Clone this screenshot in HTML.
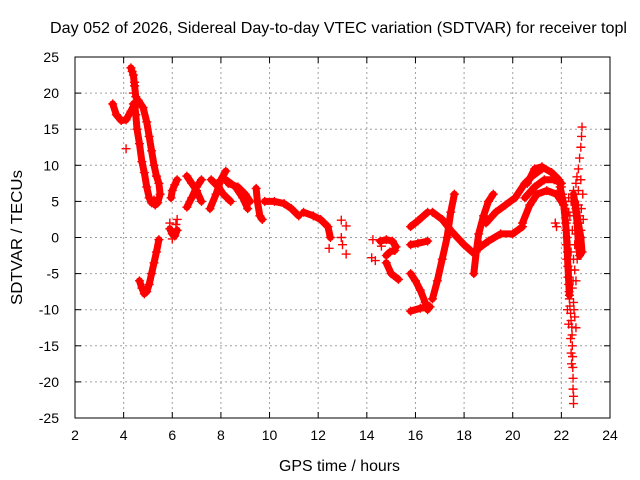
<!DOCTYPE html>
<html><head><meta charset="utf-8"><style>
html,body{margin:0;padding:0;background:#fff}
svg{display:block;font-family:"Liberation Sans",sans-serif}
</style></head><body>
<svg id="chart" width="640" height="480" viewBox="0 0 640 480" xmlns="http://www.w3.org/2000/svg">
<rect width="640" height="480" fill="#fff"/>
<text x="50" y="33" font-size="16" textLength="577" lengthAdjust="spacingAndGlyphs" fill="#000">Day 052 of 2026, Sidereal Day-to-day VTEC variation (SDTVAR) for receiver topl</text>
<text x="279" y="471" font-size="16" textLength="121" lengthAdjust="spacingAndGlyphs" fill="#000">GPS time / hours</text>
<text transform="translate(22,305) rotate(-90)" font-size="16" textLength="135" lengthAdjust="spacingAndGlyphs" fill="#000">SDTVAR / TECUs</text>
<g id="grid"></g>
<g id="marks"></g>
<rect x="75" y="57" width="535" height="361" fill="none" stroke="#000" stroke-width="1"/>
<g id="axes"></g>
</svg>
<script>
const xTicks = [2,4,6,8,10,12,14,16,18,20,22,24];
const yTicks = [-25,-20,-15,-10,-5,0,5,10,15,20,25];
// band tracks (dense consecutive samples): [hour, TECU]
const bandA1 = [[3.55,18.5],[3.7,17],[3.9,16.2],[4.1,16.3],[4.3,17.5],[4.45,18.5],[4.5,17],[4.55,15],[4.65,13],[4.75,10.5],[4.85,9],[4.95,7],[5.05,5.5],[5.15,4.8],[5.25,5.2]];
const bandA2 = [[4.4,18.5],[4.6,19],[4.8,18],[4.95,16],[5.05,14],[5.15,12],[5.25,10],[5.35,8.5],[5.45,7.5],[5.5,6],[5.4,4.8],[5.3,4.5]];
const bandSpikeTop = [[4.3,23.5],[4.35,23],[4.4,22.5],[4.45,21],[4.5,19.5]];
const bandB = [[4.65,-6],[4.75,-7],[4.85,-7.8],[4.95,-7.5],[5.05,-6.5],[5.15,-5],[5.25,-3.5],[5.35,-2],[5.45,-0.3]];
const bandC1 = [[5.95,5.5],[6.0,6.5],[6.1,7.3],[6.2,8]];
const bandC2 = [[5.9,1.2],[6.0,0.5],[6.1,0.2],[6.2,1]];
const bandD1 = [[6.6,8.5],[6.8,7.5],[7.0,6.5],[7.2,5]];
const bandD2 = [[6.6,4.2],[6.8,5.5],[7.0,7],[7.2,8]];
const bandE1 = [[7.55,4],[7.8,6],[8.0,8],[8.2,9.2]];
const bandE2 = [[7.6,8],[7.9,7],[8.1,6],[8.4,5]];
const bandE3 = [[8.2,8],[8.6,7],[8.9,5.5],[9.1,4]];
const bandE4 = [[8.3,7.5],[8.7,7],[9.0,6],[9.2,5]];
const bandF = [[9.45,6.8],[9.5,5],[9.6,3],[9.7,2.5]];
const bandG = [[9.8,5],[10.2,5],[10.6,4.7],[10.9,4],[11.2,3]];
const bandH = [[11.4,3.5],[11.8,3],[12.1,2.5],[12.4,1.5],[12.5,0]];
const bandI1 = [[14.55,-0.5],[14.8,-0.3],[15.05,-0.5],[15.2,-1.3]];
const bandI2 = [[14.8,-2.5],[14.95,-2],[15.15,-1.8]];
const bandI3 = [[14.8,-3.5],[15.0,-5],[15.3,-5.8]];
const bandJ1 = [[15.8,1.5],[16.1,2.3],[16.5,3.5]];
const bandJ2 = [[15.8,-1],[16.1,-0.8],[16.5,-0.5]];
const bandJ3 = [[15.8,-5],[16.0,-6],[16.2,-7.3],[16.4,-9],[16.5,-10]];
const bandJ4 = [[15.8,-10.2],[16.2,-9.8],[16.6,-9.6]];
const bandK = [[16.7,-8.5],[16.9,-6],[17.1,-3],[17.3,0],[17.45,3.5],[17.6,6]];
const bandL = [[16.7,3.5],[17.1,2.5],[17.5,0.8],[18,-1],[18.4,-2.2],[18.7,-1]];
const bandM = [[18.4,-5],[18.5,-2],[18.6,0.5],[18.8,3],[19.0,5],[19.2,6]];
const bandN = [[18.6,-1.5],[19,-0.5],[19.5,0.5],[20,0.5],[20.4,1.5]];
const bandO = [[18.9,2],[19.3,3.5],[19.7,4.5],[20.1,5.5],[20.5,7.5],[20.8,8.5],[21.2,9.5]];
const bandP = [[20.6,7.5],[20.9,9.5],[21.2,9.8],[21.6,9],[21.9,8]];
const bandQ = [[20.5,5.5],[20.9,7],[21.3,8],[21.7,8],[22,7.5]];
const bandR = [[20.4,2],[20.7,4.5],[21,6],[21.4,6.5],[21.8,6],[22.1,4.5]];
const bandS = [[22.5,6],[22.6,4],[22.7,2],[22.8,0],[22.85,-2]];
const bandT = [[21.95,7],[22.1,4.5],[22.2,1],[22.27,-4],[22.33,-8]];
const bandU = [[22.55,5],[22.65,2],[22.7,-1],[22.75,-2.5]];
// scattered samples (markers only)
const scatterPts = [[4.1,12.3],[4.45,21.5],[4.4,20],[5.9,2],[6.2,2.5],[6.15,1.8],[6.0,-0.2],[7.0,6],[12.45,-1.5],[12.95,2.4],[12.95,0],[13.0,-1],[13.15,1.6],[13.15,-2.3],[14.25,-0.3],[14.2,-2.8],[14.35,-3.2],[14.6,-1.2],[21.8,1.5],[21.75,2],
[22.0,7],[22.05,6],[22.1,5],[22.15,4],[22.2,2],[22.2,1],[22.23,0],[22.2,-1],[22.25,-2],[22.22,-3],[22.27,-4],[22.27,-5.5],[22.3,-6.5],[22.32,-7.5],[22.33,-8.5],[22.35,-9.5],[22.38,-10.5],[22.4,-11.5],[22.43,-12.4],[22.44,-13.5],[22.45,-15],[22.46,-16.5],[22.47,-18],[22.48,-19.5],[22.48,-21],[22.5,-22],[22.5,-23],
[22.23,2.4],[22.3,3.5],[22.4,5],[22.5,6.5],[22.6,7.5],[22.64,8.4],[22.7,9.5],[22.75,11],[22.8,12.5],[22.83,14],[22.85,15.3],[22.4,-2],[22.5,-3],[22.55,-4.5],[22.6,-6],[22.45,-7],[22.5,-9],[22.55,-11],[22.6,-12.5],[22.35,-1],[22.45,1],[22.55,3],[22.7,4.5],[22.75,3],[22.8,1],[22.9,2.5],[22.7,6.5],[22.8,8],[22.3,5.5],[22.35,3],
[22.25,-10],[22.3,-12],[22.38,-14],[22.4,-16],[22.42,-17.5],[22.52,-10],[22.48,-6],[22.4,-4.5],[22.55,-1],[22.6,0.5],[22.65,-3],[22.82,4],[22.88,6]];
const bands = [bandA1,bandA2,bandSpikeTop,bandB,bandC1,bandC2,bandD1,bandD2,bandE1,bandE2,bandE3,bandE4,bandF,bandG,bandH,bandI1,bandI2,bandI3,bandJ1,bandJ2,bandJ3,bandJ4,bandK,bandL,bandM,bandN,bandO,bandP,bandQ,bandR,bandS,bandT,bandU];

const NS='http://www.w3.org/2000/svg';
const X0=75,X1=610,Y0=418,Y1=57;
function xs(h){return X0+(h-2)/(24-2)*(X1-X0);}
function ys(v){return Y0-(v+25)/50*(Y0-Y1);}
function mk(tag,at,parent){const e=document.createElementNS(NS,tag);for(const k in at)e.setAttribute(k,at[k]);parent.appendChild(e);return e;}
const grid=document.getElementById('grid'),axes=document.getElementById('axes'),marks=document.getElementById('marks');
xTicks.forEach(t=>{
  const x=xs(t);
  if(t>2&&t<24){const l=mk('line',{x1:x,y1:Y1,x2:x,y2:Y0,stroke:'#a0a0a0','stroke-dasharray':'2,3','stroke-width':1},grid);
  
  }
  mk('line',{x1:x,y1:Y0,x2:x,y2:Y0-6,stroke:'#000'},axes);
  mk('line',{x1:x,y1:Y1,x2:x,y2:Y1+6,stroke:'#000'},axes);
  const tx=mk('text',{x:x,y:Y0+22,'font-size':14,'text-anchor':'middle',fill:'#000'},axes);
  tx.textContent=t;
  
  
});
yTicks.forEach(t=>{
  const y=ys(t);
  if(t>-25&&t<25){const l=mk('line',{x1:X0,y1:y,x2:X1,y2:y,stroke:'#a0a0a0','stroke-dasharray':'2,3','stroke-width':1},grid);
  
  }
  mk('line',{x1:X0,y1:y,x2:X0+6,y2:y,stroke:'#000'},axes);
  mk('line',{x1:X1,y1:y,x2:X1-6,y2:y,stroke:'#000'},axes);
  const tx=mk('text',{x:X0-16,y:y+5,'font-size':14,'text-anchor':'end',fill:'#000'},axes);
  tx.textContent=t;
  
  
});
function plus(h,v){
  const x=xs(h),y=ys(v);
  const p=mk('path',{d:`M${x-4.5},${y}h9M${x},${y-4.5}v9`,stroke:'#f00','stroke-width':1.4,fill:'none'},marks);
  
  
}
bands.forEach(b=>{
  const pl=mk('polyline',{points:b.map(p=>xs(p[0])+','+ys(p[1])).join(' '),stroke:'#f00','stroke-width':7,fill:'none','stroke-linejoin':'round','stroke-linecap':'round'},marks);
  
  
  b.forEach(p=>plus(p[0],p[1]));
});
scatterPts.forEach(p=>plus(p[0],p[1]));
</script>
</body></html>
